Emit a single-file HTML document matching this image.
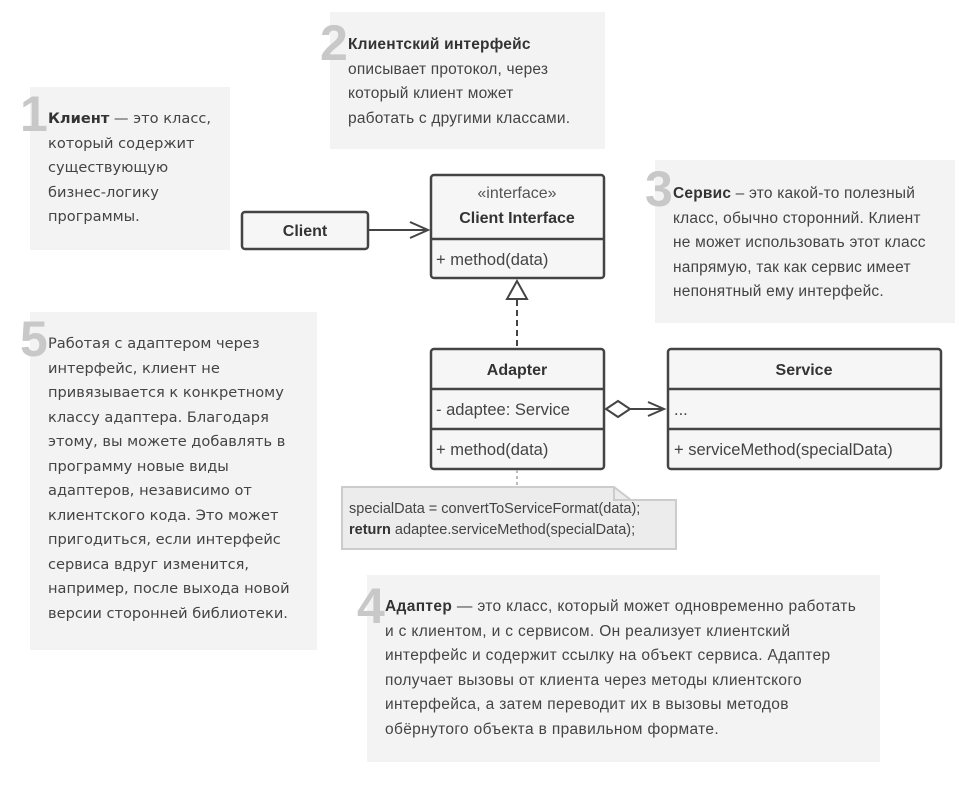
<!DOCTYPE html>
<html><head><meta charset="utf-8"><style>
body{margin:0;width:978px;height:786px;background:#fff;position:relative;font-family:"Liberation Sans","DejaVu Sans",sans-serif;overflow:hidden}
.n{position:absolute;background:#f3f3f3;color:#444;font-size:15.5px;line-height:24.5px}
.n .t{position:absolute;white-space:nowrap}
.n .d{position:absolute;font-size:50px;font-weight:bold;color:#c8c8c8;line-height:50px;font-family:"Liberation Sans",sans-serif}
.w{font-family:"DejaVu Sans",sans-serif;font-size:14.6px}
b{color:#333}
</style></head><body>
<div class="n w" style="left:30px;top:87px;width:200px;height:163px"><span class="d" style="left:-10px;top:2px">1</span><div class="t" style="left:18px;top:20px"><b>Клиент</b> — это класс,<br>который содержит<br>существующую<br>бизнес-логику<br>программы.</div></div>
<div class="n" style="left:330px;top:12px;width:275px;height:137px"><span class="d" style="left:-10px;top:6px">2</span><div class="t" style="left:18px;top:21px;letter-spacing:0.2px"><b>Клиентский интерфейс</b><br>описывает протокол, через<br>который клиент может<br>работать с другими классами.</div></div>
<div class="n" style="left:655px;top:160px;width:300px;height:163px"><span class="d" style="left:-10px;top:4px">3</span><div class="t" style="left:18px;top:22px;letter-spacing:0.2px"><b>Сервис</b> – это какой-то полезный<br>класс, обычно сторонний. Клиент<br>не может использовать этот класс<br>напрямую, так как сервис имеет<br>непонятный ему интерфейс.</div></div>
<div class="n w" style="left:30px;top:312px;width:287px;height:338px"><span class="d" style="left:-10px;top:2px">5</span><div class="t" style="left:18px;top:20px">Работая с адаптером через<br>интерфейс, клиент не<br>привязывается к конкретному<br>классу адаптера. Благодаря<br>этому, вы можете добавлять в<br>программу новые виды<br>адаптеров, независимо от<br>клиентского кода. Это может<br>пригодиться, если интерфейс<br>сервиса вдруг изменится,<br>например, после выхода новой<br>версии сторонней библиотеки.</div></div>
<div class="n" style="left:367px;top:575px;width:513px;height:187px"><span class="d" style="left:-10px;top:6px">4</span><div class="t" style="left:18px;top:20px;letter-spacing:0.35px"><b>Адаптер</b> — это класс, который может одновременно работать<br>и с клиентом, и с сервисом. Он реализует клиентский<br>интерфейс и содержит ссылку на объект сервиса. Адаптер<br>получает вызовы от клиента через методы клиентского<br>интерфейса, а затем переводит их в вызовы методов<br>обёрнутого объекта в правильном формате.</div></div>
<svg width="978" height="786" style="position:absolute;left:0;top:0" font-family="Liberation Sans, sans-serif" fill="#444">
<g stroke="#444" stroke-width="2.5" fill="#f6f6f6">
<rect x="242" y="212" width="126" height="37" rx="3"/>
<rect x="431" y="175" width="173" height="103" rx="3"/>
<rect x="431" y="349" width="173" height="120" rx="3"/>
<rect x="668" y="349" width="273" height="120" rx="3"/>
<line x1="431" y1="239" x2="604" y2="239"/>
<line x1="431" y1="389" x2="604" y2="389"/><line x1="431" y1="429" x2="604" y2="429"/>
<line x1="668" y1="389" x2="941" y2="389"/><line x1="668" y1="429" x2="941" y2="429"/>
</g>
<g stroke="#444" stroke-width="2" fill="none">
<line x1="368" y1="230" x2="428" y2="230"/><polyline points="410,222 428,230 410,238"/>
<line x1="517" y1="300" x2="517" y2="349" stroke-dasharray="6,4"/>
<polygon points="517,281 507,299 527,299" fill="#fff"/>
<polygon points="606,409 618,401 630,409 618,417" fill="#fff"/>
<line x1="630" y1="409" x2="664" y2="409"/><polyline points="648,402 664,409 648,416"/>
<line x1="517" y1="470" x2="517" y2="487" stroke="#bbb" stroke-dasharray="3,3"/>
</g>
<path d="M342 487 H614 L631 500 H676 V549 H342 Z" fill="#ececec" stroke="#ccc" stroke-width="2"/>
<path d="M614 487 V500 H631" fill="none" stroke="#ccc" stroke-width="2"/>
<g font-size="16" text-anchor="middle">
<text x="305" y="236" font-weight="bold" fill="#333">Client</text>
<text x="517" y="198" fill="#555">«interface»</text>
<text x="517" y="223" font-weight="bold" fill="#333">Client Interface</text>
<text x="517" y="375" font-weight="bold" fill="#333">Adapter</text>
<text x="804" y="375" font-weight="bold" fill="#333">Service</text>
</g>
<g font-size="16.5" fill="#444">
<text x="436" y="415">- adaptee: Service</text>
<text x="436" y="265">+ method(data)</text>
<text x="436" y="455">+ method(data)</text>
<text x="674" y="415">...</text>
<text x="674" y="455">+ serviceMethod(specialData)</text>
</g>
<g font-size="14.5" fill="#444">
<text x="349" y="513">specialData = convertToServiceFormat(data);</text>
<text x="349" y="534"><tspan font-weight="bold" fill="#333">return</tspan> adaptee.serviceMethod(specialData);</text>
</g>
</svg>
</body></html>
